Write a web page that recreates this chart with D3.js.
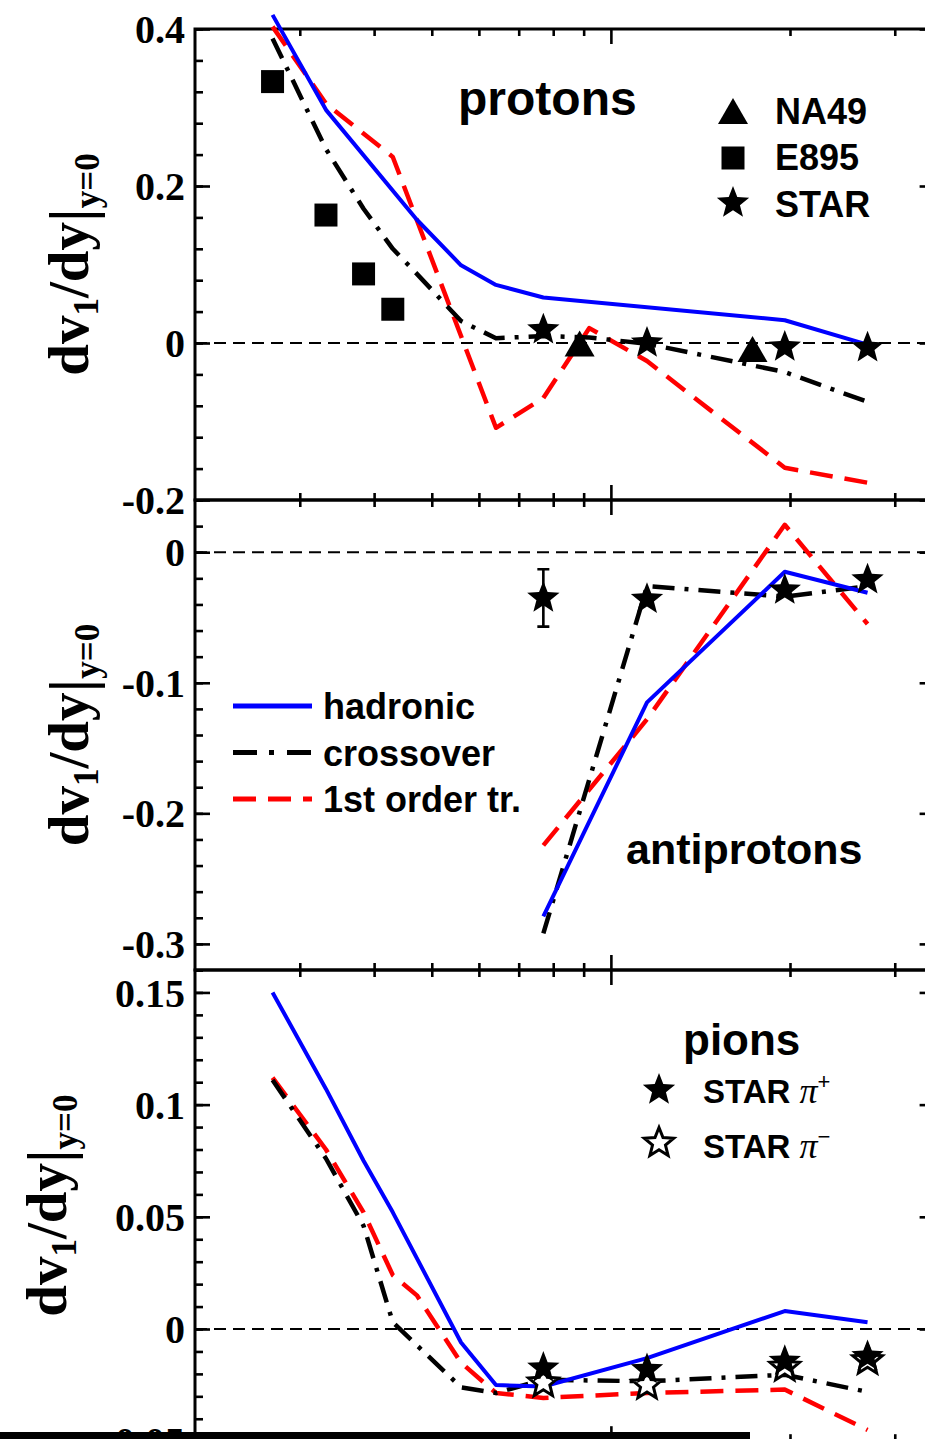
<!DOCTYPE html>
<html><head><meta charset="utf-8">
<script src="https://cdn.jsdelivr.net/npm/d3@7"></script>
<style>body{margin:0;background:#fff;overflow:hidden}svg{display:block}</style>
</head><body><svg id="c" width="925" height="1439"></svg>
<script>
// ---------------- data ----------------
const energyDomain = [2, 35];
const energyMinorTicks = [3, 4, 5, 6, 7, 8, 9, 20, 30];
const energyMajorTicks = [10];

// protons
const protonsE895 = [[2.7, 0.333], [3.32, 0.163], [3.84, 0.088], [4.3, 0.043]];
const protonsNA49 = [[8.86, -0.002], [17.3, -0.009]];
const protonsSTAR = [[7.7, 0.017], [11.5, 0.0], [19.6, -0.005], [27, -0.006]];
const protonsHadronic = [[2.7, 0.418], [3.32, 0.297], [4.72, 0.157], [5.6, 0.099], [6.41, 0.074], [7.7, 0.058], [19.6, 0.029], [27, -0.002]];
const protonsCrossover = [[2.7, 0.388], [3.32, 0.247], [3.84, 0.171], [4.3, 0.120], [4.72, 0.088], [5.6, 0.028], [6.41, 0.006], [7.7, 0.009], [9.2, 0.007], [11.5, -0.001], [19.6, -0.037], [27, -0.075]];
const protonsFirstOrder = [[2.7, 0.403], [3.32, 0.305], [4.3, 0.237], [6.41, -0.108], [7.7, -0.070], [9.2, 0.019], [11.5, -0.023], [19.6, -0.159], [27, -0.178]];

// antiprotons
const antiprotonsSTAR = [[7.7, -0.035], [11.5, -0.036], [19.6, -0.029], [27, -0.021]];
const antiprotonsSTARerr = [0.022, 0, 0, 0];
const antiprotonsHadronic = [[7.7, -0.279], [11.5, -0.115], [19.6, -0.015], [27, -0.031]];
const antiprotonsCrossover = [[7.7, -0.292], [11.5, -0.026], [19.6, -0.034], [27, -0.026]];
const antiprotonsFirstOrder = [[7.7, -0.2245], [11.5, -0.128], [19.6, 0.021], [27, -0.055]];

// pions
const pionsSTARplus = [[7.7, -0.0174], [11.5, -0.0181], [19.6, -0.0144], [27, -0.0122]];
const pionsSTARminus = [[7.7, -0.024], [11.5, -0.025], [19.6, -0.017], [27, -0.014]];
const pionsHadronic = [[2.7, 0.150], [3.32, 0.107], [3.84, 0.075], [4.3, 0.052], [5.6, -0.006], [6.41, -0.025], [7.7, -0.0256], [11.5, -0.013], [19.6, 0.008], [27, 0.003]];
const pionsCrossover = [[2.7, 0.111], [3.32, 0.076], [3.84, 0.046], [4.3, 0.003], [5.6, -0.026], [6.41, -0.0285], [7.7, -0.0226], [11.5, -0.0233], [19.6, -0.0204], [27, -0.028]];
const pionsFirstOrder = [[2.7, 0.112], [3.32, 0.080], [3.84, 0.052], [4.3, 0.024], [4.72, 0.015], [5.6, -0.015], [6.41, -0.0285], [7.7, -0.0307], [11.5, -0.0285], [19.6, -0.027], [27, -0.045]];

// axis ticks
const p1Domain = [-0.2, 0.4], p1Major = [0.4, 0.2, 0, -0.2], p1Labels = ["0.4", "0.2", "0", "-0.2"], p1MinorStep = 0.04;
const p2Domain = [-0.32, 0.04], p2Major = [0, -0.1, -0.2, -0.3], p2Labels = ["0", "-0.1", "-0.2", "-0.3"], p2MinorStep = 0.02;
const p3Domain = [-0.05, 0.16], p3Major = [0.15, 0.1, 0.05, 0, -0.05], p3Labels = ["0.15", "0.1", "0.05", "0", "-0.05"], p3MinorStep = 0.01;

const seriesNames = ["hadronic", "crossover", "1st order tr."];

// ---------------- layout ----------------
const svg = d3.select("#c");
const XL = 195, XR = 934.6;
const x = d3.scaleLog().domain(energyDomain).range([XL, XR]);

const BLUE = "#0000ff", RED = "#ff0000";
const styles = {
  hadronic: {stroke: BLUE, width: 4, dash: null},
  crossover: {stroke: "#000", width: 4.5, dash: "22,10,4,10"},
  first: {stroke: RED, width: 4.5, dash: "23,12"}
};

function minorTicks(domain, step) {
  const out = [];
  const n0 = Math.ceil(domain[0] / step - 1e-6), n1 = Math.floor(domain[1] / step + 1e-6);
  for (let k = n0; k <= n1; k++) out.push(+(k * step).toFixed(4));
  return out;
}

function starPath(R, r) {
  const pts = [];
  for (let i = 0; i < 10; i++) {
    const a = -Math.PI / 2 + i * Math.PI / 5;
    const rad = i % 2 === 0 ? R : r;
    pts.push([rad * Math.cos(a), rad * Math.sin(a)]);
  }
  return "M" + pts.map(p => p[0].toFixed(2) + "," + p[1].toFixed(2)).join("L") + "Z";
}
const STAR = starPath(17, 7.3);
const TRI = "M0,-14L15,12L-15,12Z";

function panel(cfg) {
  const y = d3.scaleLinear().domain(cfg.domain).range([cfg.bottom, cfg.top]);
  const g = svg.append("g");
  const minors = minorTicks(cfg.domain, cfg.step);

  // zero line
  g.append("path").attr("d", d3.line()([[x(energyDomain[0]), y(0)], [x(energyDomain[1]), y(0)]]))
    .attr("stroke", "#000").attr("stroke-width", 2).attr("stroke-dasharray", "12,7").attr("fill", "none");

  // axes ticks
  const ax = [];
  ax.push(g.append("g").attr("transform", `translate(${XL},0)`).call(d3.axisLeft(y).tickValues(minors).tickSize(-8).tickFormat("")));
  ax.push(g.append("g").attr("transform", `translate(${XL},0)`).call(d3.axisLeft(y).tickValues(cfg.major).tickSize(-15).tickPadding(10).tickFormat((d, i) => cfg.labels[i])));
  ax.push(g.append("g").attr("transform", `translate(${XR},0)`).call(d3.axisRight(y).tickValues(minors).tickSize(-8).tickFormat("")));
  ax.push(g.append("g").attr("transform", `translate(${XR},0)`).call(d3.axisRight(y).tickValues(cfg.major).tickSize(-15).tickFormat("")));
  ax.push(g.append("g").attr("transform", `translate(0,${cfg.top})`).call(d3.axisTop(x).tickValues(energyMinorTicks).tickSize(-7).tickFormat("")));
  ax.push(g.append("g").attr("transform", `translate(0,${cfg.top})`).call(d3.axisTop(x).tickValues(energyMajorTicks).tickSize(-15).tickFormat("")));
  ax.push(g.append("g").attr("transform", `translate(0,${cfg.bottom})`).call(d3.axisBottom(x).tickValues(energyMinorTicks).tickSize(-7).tickFormat("")));
  ax.push(g.append("g").attr("transform", `translate(0,${cfg.bottom})`).call(d3.axisBottom(x).tickValues(energyMajorTicks).tickSize(-15).tickFormat("")));
  ax.forEach(a => {
    a.select(".domain").remove();
    a.selectAll("line").attr("stroke", "#000").attr("stroke-width", 2.6);
    a.selectAll("text").attr("font-family", "'Liberation Serif', 'Times New Roman', serif")
      .attr("font-weight", "bold").attr("font-size", 40).attr("fill", "#000").attr("dy", "0.34em");
  });

  // frame
  g.append("rect").attr("x", XL).attr("y", cfg.top).attr("width", XR - XL).attr("height", cfg.bottom - cfg.top)
    .attr("fill", "none").attr("stroke", "#000").attr("stroke-width", 3);

  // y label
  const t = g.append("text")
    .attr("transform", `translate(${cfg.labelX},${(cfg.top + cfg.bottom) / 2}) rotate(-90)`)
    .attr("text-anchor", "middle")
    .attr("font-family", "'Liberation Serif', 'Times New Roman', serif").attr("font-weight", "bold")
    .attr("font-size", 57).attr("fill", "#000");
  t.append("tspan").text("dv");
  t.append("tspan").attr("font-size", 35).attr("dy", 10).text("1");
  t.append("tspan").attr("dy", -10).text("/dy");
  t.append("tspan").attr("font-size", 62).attr("dy", 4).text("|");
  t.append("tspan").attr("font-size", 35).attr("dy", 7).text("y=0");

  // curves
  const line = d3.line().x(d => x(d[0])).y(d => y(d[1]));
  [["first", cfg.first], ["crossover", cfg.crossover], ["hadronic", cfg.hadronic]].forEach(([k, data]) => {
    const s = styles[k];
    g.append("path").attr("d", line(data)).attr("fill", "none").attr("stroke", s.stroke)
      .attr("stroke-width", s.width).attr("stroke-dasharray", s.dash).attr("stroke-linejoin", "round");
  });
  return {g, y};
}

const P1 = panel({domain: p1Domain, top: 29, bottom: 500, major: p1Major, labels: p1Labels, step: p1MinorStep, labelX: 88,
  hadronic: protonsHadronic, crossover: protonsCrossover, first: protonsFirstOrder});
const P2 = panel({domain: p2Domain, top: 500, bottom: 970, major: p2Major, labels: p2Labels, step: p2MinorStep, labelX: 88,
  hadronic: antiprotonsHadronic, crossover: antiprotonsCrossover, first: antiprotonsFirstOrder});
const P3 = panel({domain: p3Domain, top: 970, bottom: 1441.2, major: p3Major, labels: p3Labels, step: p3MinorStep, labelX: 66,
  hadronic: pionsHadronic, crossover: pionsCrossover, first: pionsFirstOrder});

// markers
function markers(P, data, path, fill, stroke, sw) {
  P.g.selectAll(null).data(data).enter().append("path")
    .attr("transform", d => `translate(${x(d[0])},${P.y(d[1])})`)
    .attr("d", path).attr("fill", fill).attr("stroke", stroke || "none").attr("stroke-width", sw || 0)
    .attr("stroke-linejoin", "miter");
}
const SQ = "M-11.5,-11.5H11.5V11.5H-11.5Z";
markers(P1, protonsE895, SQ, "#000");
markers(P1, protonsNA49, TRI, "#000");
markers(P1, protonsSTAR, STAR, "#000");

// antiproton error bars
P2.g.selectAll(null).data(antiprotonsSTAR.map((d, i) => [d[0], d[1], antiprotonsSTARerr[i]]).filter(d => d[2] > 0))
  .enter().append("path")
  .attr("d", d => {
    const cx = x(d[0]), y1 = P2.y(d[1] + d[2]), y2 = P2.y(d[1] - d[2]);
    return `M${cx},${y1}V${y2}M${cx - 6},${y1}H${cx + 6}M${cx - 6},${y2}H${cx + 6}`;
  }).attr("stroke", "#000").attr("stroke-width", 2.6).attr("fill", "none");
markers(P2, antiprotonsSTAR, STAR, "#000");

markers(P3, pionsSTARminus, starPath(15.5, 6.8), "#fff", "#000", 3);
markers(P3, pionsSTARplus, STAR, "#000");

// ---------------- texts & legends ----------------
const SANS = "'Liberation Sans', Arial, Helvetica, sans-serif";
function txt(xp, yp, s, size, parent) {
  return (parent || svg).append("text").attr("x", xp).attr("y", yp).attr("font-family", SANS)
    .attr("font-weight", "bold").attr("font-size", size).attr("fill", "#000").text(s);
}
txt(458, 115, "protons", 48);
txt(626, 864, "antiprotons", 43);
txt(683, 1055, "pions", 44);

// panel 1 legend
svg.append("path").attr("transform", "translate(733,112)").attr("d", TRI).attr("fill", "#000");
svg.append("path").attr("transform", "translate(733,158)").attr("d", SQ).attr("fill", "#000");
svg.append("path").attr("transform", "translate(733,203)").attr("d", STAR).attr("fill", "#000");
txt(775, 124, "NA49", 36);
txt(775, 170, "E895", 36);
txt(775, 217, "STAR", 36);

// panel 2 legend (model lines)
const legendKeys = ["hadronic", "crossover", "first"];
legendKeys.forEach((k, i) => {
  const s = styles[k];
  const yy = 706 + i * 46.5;
  svg.append("path").attr("d", `M233,${yy}H312`).attr("stroke", s.stroke).attr("stroke-width", 5)
    .attr("stroke-dasharray", k === "crossover" ? "24,12,5,13" : s.dash).attr("fill", "none");
  txt(323, yy + 13, seriesNames[i], 36);
});

// panel 3 legend
svg.append("path").attr("transform", "translate(659,1090)").attr("d", STAR).attr("fill", "#000");
svg.append("path").attr("transform", "translate(659,1143)").attr("d", starPath(15.5, 6.8)).attr("fill", "#fff").attr("stroke", "#000").attr("stroke-width", 3);
[["+", 1103], ["\u2212", 1158]].forEach(([sign, yb]) => {
  const t = txt(703, yb, "STAR ", 33);
  t.append("tspan").attr("font-style", "italic").attr("font-weight", "normal").attr("font-family", "'Liberation Serif', serif").attr("font-size", 36).text("\u03C0");
  t.append("tspan").attr("font-size", 22).attr("font-weight", "normal").attr("dy", -14).text(sign);
});

// black bar at the bottom of the picture
svg.append("rect").attr("x", 0).attr("y", 1432).attr("width", 750).attr("height", 10).attr("fill", "#000");
</script></body></html>
